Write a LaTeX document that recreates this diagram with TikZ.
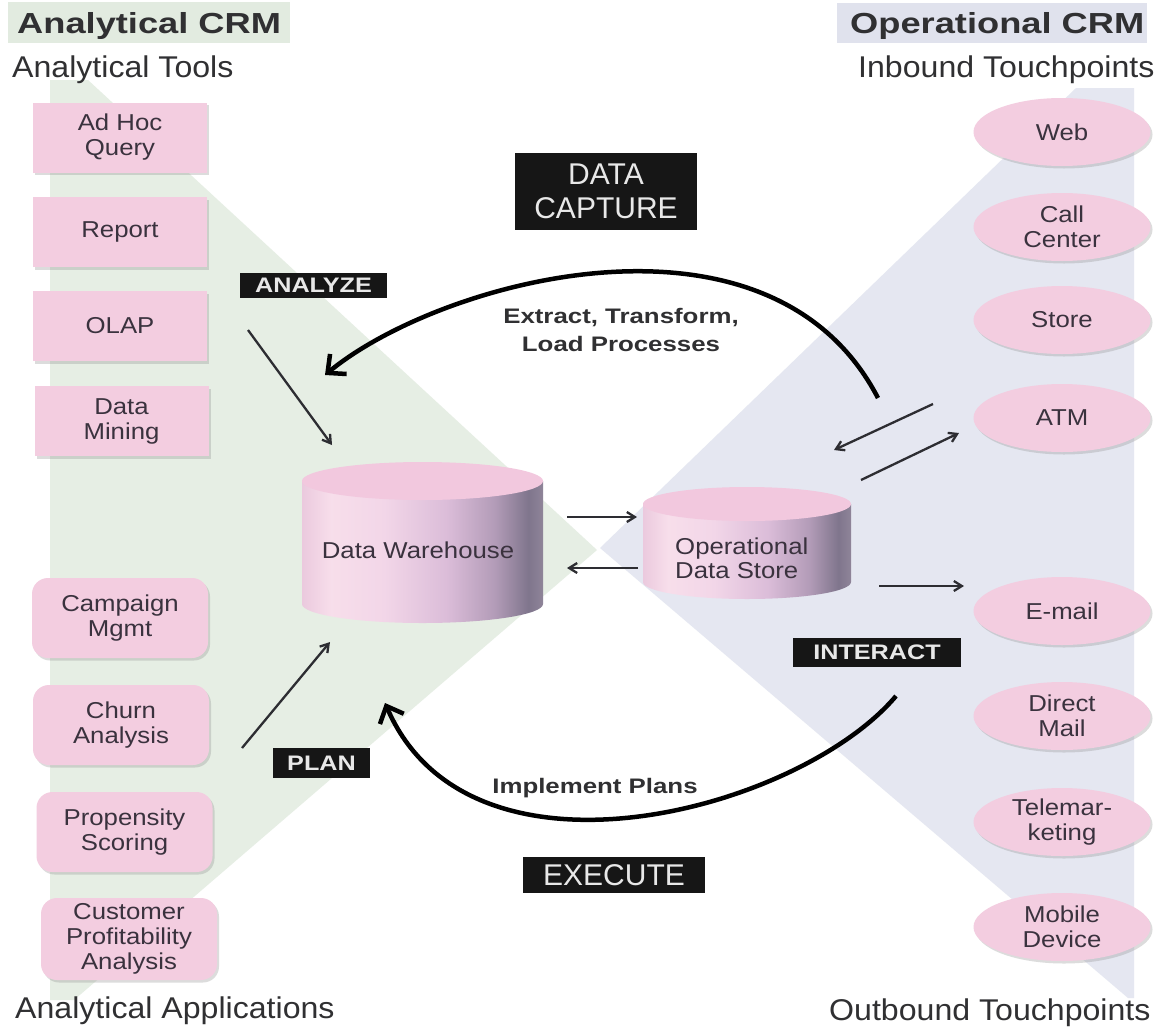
\documentclass[tikz,border=0pt]{standalone}
\usepackage{fontspec}
\setmainfont{Liberation Sans}
\newfontfamily\bodyfont{Liberation Sans}[FakeStretch=1.12]
\newfontfamily\hdrfont{Liberation Sans}[FakeStretch=1.25]
\newfontfamily\subfont{Liberation Sans}[FakeStretch=1.07]
\newfontfamily\tagfont{Liberation Sans}[FakeStretch=1.2]
\newfontfamily\midfont{Liberation Sans}[FakeStretch=1.23]
\usetikzlibrary{arrows.meta,shadows,shapes.geometric}

\definecolor{pinkbox}{RGB}{243,205,224}
\definecolor{drumtop}{RGB}{242,200,222}
\definecolor{txt}{RGB}{58,50,62}
\definecolor{hdrtxt}{RGB}{48,48,50}
\definecolor{greenbg}{RGB}{230,238,228}
\definecolor{bluebg}{RGB}{229,231,241}
\definecolor{greenhdr}{RGB}{226,235,224}
\definecolor{bluehdr}{RGB}{224,226,237}
\definecolor{tagbg}{RGB}{22,22,22}
\definecolor{tagtxt}{RGB}{232,232,232}
\definecolor{arrowc}{RGB}{45,45,50}

% horizontal shading for the drum bodies (bbox maps to 25bp..75bp)
\pgfdeclarehorizontalshading{drum}{100bp}{%
  rgb(0bp)=(0.92,0.79,0.87);
  rgb(25bp)=(0.92,0.79,0.87);
  rgb(31bp)=(0.97,0.87,0.92);
  rgb(42bp)=(0.95,0.84,0.91);
  rgb(55bp)=(0.86,0.74,0.85);
  rgb(65bp)=(0.70,0.61,0.72);
  rgb(72bp)=(0.50,0.46,0.55);
  rgb(75bp)=(0.56,0.52,0.60);
  rgb(100bp)=(0.56,0.52,0.60)}

% drum: centre x, top rim y, bottom rim y, x radius, y radius
\newcommand{\drumshape}[5]{%
  \shade[shading=drum] ({#1-#4},#2) -- ({#1-#4},#3)
    .. controls ({#1-#4},{#3+0.5523*#5}) and ({#1-0.5523*#4},{#3+#5}) .. (#1,{#3+#5})
    .. controls ({#1+0.5523*#4},{#3+#5}) and ({#1+#4},{#3+0.5523*#5}) .. ({#1+#4},#3)
    -- ({#1+#4},#2) -- cycle;
  \fill[drumtop] (#1,#2) ellipse [x radius=#4pt, y radius=#5pt];
}

\tikzset{
  boxshadow/.style={drop shadow={shadow xshift=2pt, shadow yshift=-2.5pt, opacity=0.3, fill=black!45}},
  tool/.style={rectangle, fill=pinkbox, minimum width=174pt, minimum height=70pt,
    inner sep=2pt, align=center, text=txt, font={\bodyfont\fontsize{23}{25}\selectfont}, boxshadow},
  appl/.style={tool, rounded corners=16pt, minimum width=176pt, minimum height=80pt},
  touch/.style={ellipse, fill=pinkbox, minimum width=177pt, minimum height=68pt,
    inner sep=0pt, align=center, text=txt, font={\bodyfont\fontsize{23}{25}\selectfont}, boxshadow},
  drumlabel/.style={align=center, text=txt, inner sep=0pt, font={\bodyfont\fontsize{23}{24}\selectfont}},
  header/.style={anchor=base west, inner sep=0pt, text=hdrtxt, font={\hdrfont\bfseries\fontsize{29}{31}\selectfont}},
  subhead/.style={anchor=base west, inner sep=0pt, text=hdrtxt, font={\subfont\fontsize{30}{32}\selectfont}},
  tag/.style={fill=tagbg, text=tagtxt, inner sep=0pt, align=center, font={\tagfont\bfseries\fontsize{21}{23}\selectfont}},
  bigtag/.style={fill=tagbg, text=tagtxt, inner sep=0pt, align=center, font={\fontsize{30}{34}\selectfont}},
  flowlabel/.style={align=center, inner sep=0pt, text=hdrtxt, font={\midfont\bfseries\fontsize{21}{28}\selectfont}},
  thinarrow/.style={draw=arrowc, line width=2.3pt, -{Straight Barb[length=8pt,width=10pt]}},
  bigarc/.style={draw=black, line width=4.5pt, -{Straight Barb[length=14pt,width=26pt]}}
}

\begin{document}
\begin{tikzpicture}[x=1pt, y=-1pt]
\useasboundingbox (0,0) rectangle (1161,1028);
\fill[white] (0,0) rectangle (1161,1028);

% background bands
\fill[greenbg] (50,80) -- (88,80) -- (597,550) -- (74,1000) -- (50,1000) -- cycle;
\fill[bluebg] (600,548) -- (1076,88) -- (1134,88) -- (1134,998) -- (1128,998) -- cycle;
\fill[greenhdr] (8,2) rectangle (290,43);
\fill[bluehdr] (837,3) rectangle (1147,43);

% headings
\node[header] (hA) at (17,33) {Analytical CRM};
\node[subhead] (hAT) at (12,77) {Analytical Tools};
\node[header] (hO) at (850,33) {Operational CRM};
\node[subhead] (hIT) at (858,77) {Inbound Touchpoints};
\node[subhead] (hAA) at (15,1018) {Analytical Applications};
\node[subhead] (hOT) at (829,1020) {Outbound Touchpoints};

% analytical tools
\node[tool] (adhoc) at (120,137.5) {Ad Hoc\\Query};
\node[tool] (report) at (120,232) {Report};
\node[tool] (olap) at (120,326) {OLAP};
\node[tool] (mining) at (121.5,421) {Data\\Mining};

% analytical applications
\node[appl] (campaign) at (120,618) {Campaign\\Mgmt};
\node[appl] (churn) at (121,725) {Churn\\Analysis};
\node[appl] (propensity) at (124.5,832) {Propensity\\Scoring};
\node[appl, minimum height=82pt] (profit) at (129,939) {Customer\\Profitability\\Analysis};

% touchpoints
\node[touch] (web) at (1062,132) {Web};
\node[touch] (call) at (1062,227) {Call\\Center};
\node[touch] (store) at (1062,320) {Store};
\node[touch] (atm) at (1062,418) {ATM};
\node[touch] (email) at (1062,611) {E-mail};
\node[touch] (dmail) at (1062,716) {Direct\\Mail};
\node[touch] (tele) at (1062,822) {Telemar-\\keting};
\node[touch] (mobile) at (1062,927) {Mobile\\Device};

% data stores
\drumshape{422.5}{481}{604}{120.5}{19}
\node[drumlabel] (dw) at (418,550) {Data Warehouse};
\drumshape{747}{504}{582}{104}{17}
\node[drumlabel, align=left, anchor=west] (ods) at (675,558) {Operational\\Data Store};

% stage tags
\node[bigtag, minimum width=182pt, minimum height=77pt] (capture) at (606,191.5) {DATA\\CAPTURE};
\node[bigtag, minimum width=182pt, minimum height=36pt] (execute) at (614,875) {EXECUTE};
\node[tag, minimum width=147pt, minimum height=25pt] (analyze) at (313.5,285.5) {ANALYZE};
\node[tag, minimum width=97pt, minimum height=30pt] (plan) at (321.5,763) {PLAN};
\node[tag, minimum width=168pt, minimum height=29pt] (interact) at (877,652.5) {INTERACT};

% flow labels
\node[flowlabel] (etl) at (621,330) {Extract, Transform,\\Load Processes};
\node[flowlabel, anchor=base] (impl) at (595,793) {Implement Plans};

% arrow end points
\coordinate (anS) at (248,330);  \coordinate (anE) at (332,445);
\coordinate (plS) at (242,748);  \coordinate (plE) at (330,642);
\coordinate (dwoS) at (567,517); \coordinate (dwoE) at (637,517);
\coordinate (odwS) at (638,568); \coordinate (odwE) at (567,568);
\coordinate (aoS) at (933,404);  \coordinate (aoE) at (834,450);
\coordinate (oaS) at (861,480);  \coordinate (oaE) at (959,433);
\coordinate (oeS) at (879,586);  \coordinate (oeE) at (964,586);
\coordinate (etlS) at (878,398); \coordinate (etlE) at (325,375);
\coordinate (impS) at (896,696); \coordinate (impE) at (385,703);

% short arrows
\draw[thinarrow] (anS) -- (anE);
\draw[thinarrow] (plS) -- (plE);
\draw[thinarrow] (dwoS) -- (dwoE);
\draw[thinarrow] (odwS) -- (odwE);
\draw[thinarrow] (aoS) -- (aoE);
\draw[thinarrow] (oaS) -- (oaE);
\draw[thinarrow] (oeS) -- (oeE);

% cycle arcs
\draw[bigarc] (etlS) .. controls (770,190) and (440,280) .. (etlE);
\draw[bigarc] (impS) .. controls (800,810) and (470,900) .. (impE);
\end{tikzpicture}
\end{document}
